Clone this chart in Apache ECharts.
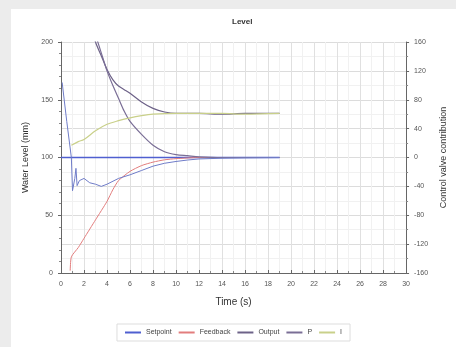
<!DOCTYPE html>
<html>
<head>
<meta charset="utf-8">
<script src="https://cdn.jsdelivr.net/npm/echarts@6/dist/echarts.min.js"></script>
<style>
  html, body { margin: 0; padding: 0; background: #ececec; width: 456px; height: 347px; overflow: hidden; }
  #chart { position: absolute; left: 11px; top: 9px; width: 445px; height: 338px; background: #ffffff; }
</style>
</head>
<body>
<div id="chart"></div>
<script>
// Level control run: water level (left axis, mm) and controller terms (right axis)
const setpointT = [0, 19];
const setpointV = [100, 100];

const feedbackT = [0.8, 0.9, 1.5, 2, 3, 4, 4.5, 5, 6, 7, 8, 9, 10, 12, 14, 16, 19];
const feedbackV = [2, 14, 22, 30, 46, 62, 72, 80, 88, 93, 96, 98, 99, 100, 100, 100, 100];

const outputT = [1, 2, 2.8, 3.0, 3.5, 4, 4.5, 5, 5.5, 6, 7, 8, 9, 10, 12, 14, 16, 19];
const outputV = [330, 230, 175, 160, 141, 122, 108, 99, 94, 89, 77, 68, 63, 61, 61, 60, 61, 61];

const pT = [1, 2, 3.1, 3.5, 4, 4.5, 5, 5.5, 6, 7, 8, 9, 10, 11, 12, 14, 19];
const pV = [320, 220, 165, 145, 120, 100, 82, 64, 50, 32, 17, 8, 4, 2.5, 1, 0, 0];

const iT = [0.9, 1.5, 2, 3, 4, 5, 6, 7, 8, 10, 12, 14, 16, 19];
const iV = [17, 22, 25, 37, 46, 51, 55, 58, 60, 61, 61, 61, 60, 61];

const dT = [0.1, 0.5, 0.9, 1.0, 1.2, 1.3, 1.4, 1.6, 2, 2.5, 3, 3.5, 4, 5, 6, 7, 8, 9, 10, 11, 12, 14, 16, 19];
const dV = [104, 50, 0, -46, -29, -15, -39, -32, -29, -35, -37, -40, -37, -29, -24, -18, -12, -8, -5.5, -3.5, -2, -1, -0.5, 0];

const legendNames = ['Setpoint', 'Feedback', 'Output', 'P', 'I'];

function pairs(t, v) { return t.map((x, k) => [x, v[k]]); }

const font = 'Liberation Sans, Arial, sans-serif';
const chart = echarts.init(document.getElementById('chart'), null, { renderer: 'canvas' });

chart.setOption({
  animation: false,
  title: {
    text: 'Level', left: 216, top: 4,
    textStyle: { fontSize: 8, fontWeight: 'bold', color: '#333', fontFamily: font }
  },
  legend: {
    data: legendNames, bottom: 6, left: 'center',
    icon: 'rect', itemWidth: 16, itemHeight: 2, itemGap: 7,
    borderColor: '#dddddd', borderWidth: 1, padding: [5, 8],
    textStyle: { fontSize: 7, color: '#444', fontFamily: font }
  },
  grid: { left: 50, right: 38, top: 33, bottom: 74, containLabel: false },
  xAxis: {
    type: 'value', min: 0, max: 30, interval: 2,
    name: 'Time (s)', nameLocation: 'middle', nameGap: 24,
    nameTextStyle: { fontSize: 10, color: '#333', fontFamily: font },
    axisLine: { show: true, lineStyle: { color: '#666' } },
    axisTick: { show: true, inside: true, length: 3, lineStyle: { color: '#666' } },
    minorTick: { show: true, splitNumber: 2, length: 2, lineStyle: { color: '#888' } },
    axisLabel: { fontSize: 7, color: '#555', margin: 8, fontFamily: font },
    splitLine: { show: true, lineStyle: { color: '#e0e0e0', width: 1 } },
    minorSplitLine: { show: true, lineStyle: { color: '#f1f1f1', width: 1 } }
  },
  yAxis: [
    {
      type: 'value', min: 0, max: 200, interval: 50, position: 'left',
      name: 'Water Level (mm)', nameLocation: 'middle', nameGap: 28,
      nameTextStyle: { fontSize: 9, color: '#333', fontFamily: font },
      axisLine: { show: true, lineStyle: { color: '#666' } },
      axisTick: { show: true, length: 3, lineStyle: { color: '#666' } },
      minorTick: { show: true, splitNumber: 5, length: 2, lineStyle: { color: '#888' } },
      axisLabel: { fontSize: 7, color: '#555', margin: 8, fontFamily: font },
      splitLine: { show: false }
    },
    {
      type: 'value', min: -160, max: 160, interval: 40, position: 'right',
      name: 'Control valve contribution', nameLocation: 'middle', nameGap: 32,
      nameTextStyle: { fontSize: 9, color: '#333', fontFamily: font },
      axisLine: { show: true, lineStyle: { color: '#666' } },
      axisTick: { show: true, length: 3, lineStyle: { color: '#666' } },
      minorTick: { show: true, splitNumber: 2, length: 2, lineStyle: { color: '#888' } },
      axisLabel: { fontSize: 7, color: '#555', margin: 8, fontFamily: font },
      splitLine: { show: true, lineStyle: { color: '#dcdcdc', width: 1 } },
      minorSplitLine: { show: true, lineStyle: { color: '#f1f1f1', width: 1 } }
    }
  ],
  series: [
    { name: 'Setpoint', type: 'line', yAxisIndex: 0, data: pairs(setpointT, setpointV),
      symbol: 'none', lineStyle: { color: '#4f5fd0', width: 1.5 }, itemStyle: { color: '#4f5fd0' } },
    { name: 'Feedback', type: 'line', yAxisIndex: 0, data: pairs(feedbackT, feedbackV),
      symbol: 'none', smooth: 0.2, lineStyle: { color: '#e27d7d', width: 1 }, itemStyle: { color: '#e27d7d' } },
    { name: 'Output', type: 'line', yAxisIndex: 1, data: pairs(outputT, outputV),
      symbol: 'none', smooth: 0.3, lineStyle: { color: '#6d6288', width: 1.2 }, itemStyle: { color: '#6d6288' } },
    { name: 'P', type: 'line', yAxisIndex: 1, data: pairs(pT, pV),
      symbol: 'none', smooth: 0.3, lineStyle: { color: '#7a6e96', width: 1.2 }, itemStyle: { color: '#7a6e96' } },
    { name: 'I', type: 'line', yAxisIndex: 1, data: pairs(iT, iV),
      symbol: 'none', smooth: 0.3, lineStyle: { color: '#c9d08a', width: 1.2 }, itemStyle: { color: '#c9d08a' } },
    { name: 'D', type: 'line', yAxisIndex: 1, data: pairs(dT, dV),
      symbol: 'none', lineStyle: { color: '#6f7cc8', width: 1 }, itemStyle: { color: '#6f7cc8' } }
  ]
});
</script>
</body>
</html>
